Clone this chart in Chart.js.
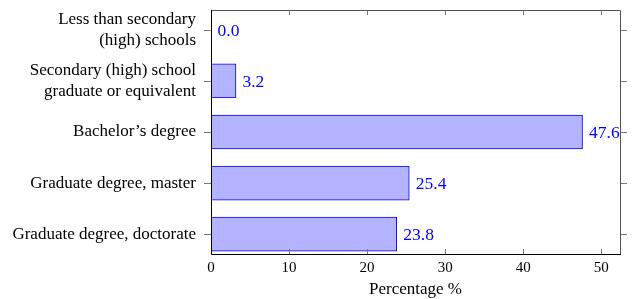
<!DOCTYPE html>
<html>
<head>
<meta charset="utf-8">
<script src="https://cdn.jsdelivr.net/npm/chart.js@4"></script>
<style>
  html, body { margin: 0; padding: 0; background: #fff; }
  #wrap { width: 634px; height: 299px; }
</style>
</head>
<body>
<div id="wrap"><canvas id="chart"></canvas></div>
<script>
// ---- data ----
const categories = [
  ["Less than secondary", "(high) schools"],
  ["Secondary (high) school", "graduate or equivalent"],
  ["Bachelor’s degree"],
  ["Graduate degree, master"],
  ["Graduate degree, doctorate"]
];
const percentages = [0.0, 3.2, 47.6, 25.4, 23.8];
const xTicks = [0, 10, 20, 30, 40, 50];

const SERIF = "'Liberation Serif', 'Times New Roman', serif";
const BLUE = "rgb(0,0,255)";

// frame, inward ticks and value labels (pgfplots look)
const frameAndLabels = {
  id: "frameAndLabels",
  afterDatasetsDraw(chart) {
    const { ctx, chartArea: a, scales } = chart;
    const x = scales.x, y = scales.y;
    ctx.save();

    // tick marks
    ctx.strokeStyle = "#777";
    ctx.lineWidth = 1;
    ctx.beginPath();
    xTicks.forEach(t => {
      const px = Math.round(x.getPixelForValue(t)) + 0.5;
      ctx.moveTo(px, a.bottom); ctx.lineTo(px, a.bottom - 5);
      ctx.moveTo(px, a.top); ctx.lineTo(px, a.top + 5);
    });
    categories.forEach((c, i) => {
      const py = Math.round(y.getPixelForValue(i)) + 0.5;
      ctx.moveTo(a.left - 7, py); ctx.lineTo(a.left, py);
      ctx.moveTo(a.right, py); ctx.lineTo(a.right + 7, py);
    });
    ctx.stroke();

    // top / right border
    ctx.strokeStyle = "#555";
    ctx.beginPath();
    ctx.moveTo(a.left, a.top + 0.5); ctx.lineTo(a.right + 0.5, a.top + 0.5);
    ctx.lineTo(a.right + 0.5, a.bottom);
    ctx.stroke();

    // left / bottom axis
    ctx.strokeStyle = "#000";
    ctx.beginPath();
    ctx.moveTo(a.left + 0.5, a.top); ctx.lineTo(a.left + 0.5, a.bottom + 0.5);
    ctx.lineTo(a.right + 1, a.bottom + 0.5);
    ctx.stroke();

    // value labels
    ctx.fillStyle = BLUE;
    ctx.font = "17.5px " + SERIF;
    ctx.textAlign = "left";
    ctx.textBaseline = "middle";
    chart.getDatasetMeta(0).data.forEach((bar, i) => {
      ctx.fillText(percentages[i].toFixed(1), bar.x + 6.5, bar.y + 1);
    });
    ctx.restore();
  }
};

new Chart(document.getElementById("chart"), {
  type: "bar",
  data: {
    datasets: [{
      data: percentages.map((v, i) => ({ x: v, y: i })),
      backgroundColor: "rgb(179,179,255)",
      borderColor: BLUE,
      borderWidth: 1,
      borderSkipped: false,
      barThickness: 34
    }]
  },
  options: {
    indexAxis: "y",
    responsive: true,
    maintainAspectRatio: false,
    animation: false,
    layout: { padding: { top: 10, right: 14, left: 0, bottom: 0 } },
    plugins: {
      legend: { display: false },
      tooltip: { enabled: false }
    },
    scales: {
      x: {
        type: "linear",
        min: 0,
        max: 52.4,
        afterBuildTicks: s => { s.ticks = xTicks.map(v => ({ value: v })); },
        afterFit: s => { s.height = 45; },
        grid: { display: false, drawTicks: false },
        border: { display: false },
        ticks: { color: "#000", font: { family: SERIF, size: 15 }, padding: 5, maxRotation: 0 },
        title: {
          display: true,
          text: "Percentage %",
          color: "#000",
          font: { family: SERIF, size: 17 },
          padding: { top: 0, bottom: -1 }
        }
      },
      y: {
        type: "linear",
        reverse: true,
        offset: false,
        min: -0.39,
        max: 4.39,
        afterBuildTicks: s => { s.ticks = categories.map((c, i) => ({ value: i })); },
        afterFit: s => { s.width = 211; s.paddingTop = 0; s.paddingBottom = 0; },
        grid: { display: false, drawTicks: false, offset: false },
        border: { display: false },
        ticks: {
          color: "#000",
          font: { family: SERIF, size: 17, lineHeight: 1.2 },
          padding: 15,
          callback: v => categories[v]
        }
      }
    }
  },
  plugins: [frameAndLabels]
});
</script>
</body>
</html>
